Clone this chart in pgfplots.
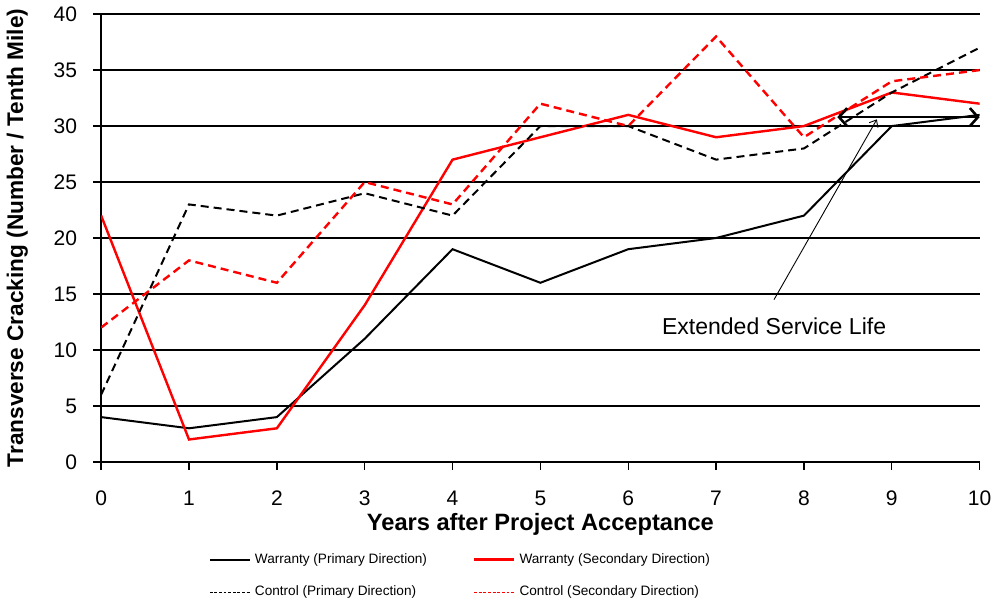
\documentclass[border=0pt]{standalone}
\usepackage{pgfplots}
\pgfplotsset{compat=1.18}
\usepackage{fontspec}
\setmainfont{Liberation Sans}
\usetikzlibrary{arrows.meta}
\begin{document}
\begin{tikzpicture}
\begin{axis}[
  scale only axis,
  width=438.5pt, height=223.5pt,
  xmin=0, xmax=10, ymin=0, ymax=40,
  xtick={0,...,10}, ytick={0,5,...,40},
  axis x line*=bottom, axis y line*=left,
  tick align=outside,
  tick style={black, line width=0.7pt},
  major tick length=4pt,
  ymajorgrids,
  major grid style={black, line width=0.7pt},
  axis line style={black, line width=0.7pt},
  /pgf/number format/assume math mode=true,
  ticklabel style={font=\fontsize{10.5}{12}\selectfont},
  xticklabel style={yshift=-7pt},
  yticklabel style={xshift=-4.5pt},
  xlabel={\textbf{Years after Project Acceptance}},
  ylabel={\textbf{Transverse Cracking (Number / Tenth Mile)}},
  xlabel style={font=\fontsize{11.8}{13}\selectfont, yshift=3pt},
  ylabel style={font=\fontsize{11.3}{13}\selectfont, yshift=6pt},
  legend columns=2,
  legend style={at={(0.41,-0.185)}, anchor=north, draw=none,
    font=\fontsize{6.8}{8.5}\selectfont, row sep=6pt,
    /tikz/every even column/.append style={column sep=21pt}},
  legend cell align=left,
  legend image code/.code={\draw[#1] (0pt,0pt) -- (20pt,0pt);},
]
\addplot[black, line width=1pt] coordinates {
(0,4) (1,3) (2,4) (3,11) (4,19) (5,16) (6,19) (7,20) (8,22) (9,30) (10,31)};
\addlegendentry{Warranty (Primary Direction)}
\addplot[red, line width=1.2pt] coordinates {
(0,22) (1,2) (2,3) (3,14) (4,27) (5,29) (6,31) (7,29) (8,30) (9,33) (10,32)};
\addlegendentry{Warranty (Secondary Direction)}
\addplot[black, line width=1pt, dash pattern=on 4pt off 2.5pt,
  legend image post style={line width=0.6pt, dash pattern=on 1.4pt off 0.9pt}] coordinates {
(0,6) (1,23) (2,22) (3,24) (4,22) (5,30) (6,30) (7,27) (8,28) (9,33) (10,37)};
\addlegendentry{Control (Primary Direction)}
\addplot[red, line width=1.2pt, dash pattern=on 4pt off 2.5pt,
  legend image post style={line width=0.6pt, dash pattern=on 1.4pt off 0.9pt}] coordinates {
(0,12) (1,18) (2,16) (3,25) (4,23) (5,32) (6,30) (7,38) (8,29) (9,34) (10,35)};
\addlegendentry{Control (Secondary Direction)}
\draw[{Straight Barb[length=4pt,width=9pt]}-{Straight Barb[length=4pt,width=9pt]}, line width=1.3pt] (axis cs:8.38,30.8) -- (axis cs:10,30.8);
\draw[-{Straight Barb[length=3pt,width=5pt]}, line width=0.45pt] (axis cs:7.66,14.5) -- (axis cs:8.83,30.6);
\node[font=\fontsize{11.5}{13}\selectfont] at (axis cs:7.66,12.1) {Extended Service Life};
\end{axis}
\end{tikzpicture}
\end{document}
